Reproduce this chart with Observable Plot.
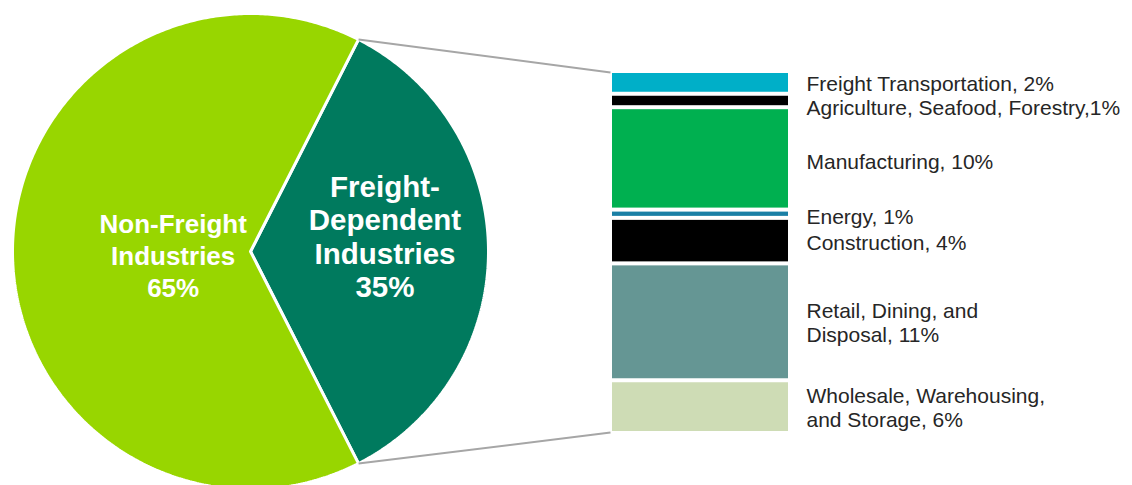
<!DOCTYPE html>
<html><head><meta charset="utf-8">
<script src="https://cdn.jsdelivr.net/npm/d3@7"></script>
<script src="https://cdn.jsdelivr.net/npm/@observablehq/plot@0.6"></script>
<style>html,body{margin:0;padding:0;background:#fff;} #chart{width:1132px;height:485px;}</style>
</head><body><div id="chart"></div>
<script>
// ---------- data ----------
const pieNames = ["Freight-Dependent Industries", "Non-Freight Industries"];
const pieValues = [35, 65];
const pieLabels = ["Freight-\nDependent\nIndustries\n35%", "Non-Freight\nIndustries\n65%"];

const segNames = ["Freight Transportation", "Agriculture, Seafood, Forestry", "Manufacturing", "Energy",
  "Construction", "Retail, Dining, and Disposal", "Wholesale, Warehousing, and Storage"];
const segValues = [2.2, 1.3, 9.9, 0.8, 4.4, 11.3, 5.1];
const segLabels = ["Freight Transportation, 2%", "Agriculture, Seafood, Forestry,1%", "Manufacturing, 10%",
  "Energy, 1%", "Construction, 4%", "Retail, Dining, and\nDisposal, 11%", "Wholesale, Warehousing,\nand Storage, 6%"];

// ---------- layout & style ----------
const W = 1132, H = 485;
const FONT = "'Liberation Sans', Arial, Helvetica, sans-serif";
const pieGeom = {cx: 250, cy: 251, r: 238};
const pieColors = ["#007a5e", "#98d600"];
const pieLabelR = [0.565, 0.325];
const pieLabelDy = [-15, 3];
const pieFont = [29.5, 26];
const pieLineH = [1.135, 1.23];
const barGeom = {x1: 612, x2: 788, top: 71, bottom: 433, inset: 2};
const segColors = ["#00afc8", "#000000", "#00b050", "#1a7fa5", "#000000", "#659694", "#cedcb5"];
const segLabelDy = [0, 6, 2.5, 2, 1, 0, 0];
const labelX = 806;

// ---------- pie geometry ----------
const total = d3.sum(pieValues);
const start = Math.PI / 2 - (pieValues[0] / total) * Math.PI;
const arcs = d3.pie().sort(null).startAngle(start).endAngle(start + 2 * Math.PI)(pieValues);
const {cx, cy, r} = pieGeom;
const px = a => cx + r * Math.sin(a), py = a => cy - r * Math.cos(a);

const sliceMarks = arcs.map((a, i) => {
  const pts = [{x: cx, y: cy}];
  const n = Math.ceil((a.endAngle - a.startAngle) / 0.01);
  for (let k = 0; k <= n; k++) {
    const ang = a.startAngle + (a.endAngle - a.startAngle) * k / n;
    pts.push({x: px(ang), y: py(ang)});
  }
  pts.push({x: cx, y: cy});
  return Plot.line(pts, {x: "x", y: "y", fill: pieColors[i], stroke: "#fff", strokeWidth: 3,
    strokeLinejoin: "miter", curve: "linear"});
});

const pieTextMarks = arcs.map((a, i) => {
  const mid = (a.startAngle + a.endAngle) / 2;
  return Plot.text([{name: pieNames[i], label: pieLabels[i]}], {
    x: () => cx + r * pieLabelR[i] * Math.sin(mid),
    y: () => cy - r * pieLabelR[i] * Math.cos(mid) + pieLabelDy[i],
    text: "label", fill: "#fff", fontWeight: "bold", fontSize: pieFont[i], fontFamily: FONT,
    lineHeight: pieLineH[i], lineAnchor: "middle", textAnchor: "middle"
  });
});

// ---------- bar geometry ----------
const segTotal = d3.sum(segValues);
const barY = Plot.scale({y: {type: "linear", domain: [0, segTotal], range: [barGeom.top, barGeom.bottom]}});
const cum = [0, ...d3.cumsum(segValues)];
const segs = segNames.map((name, i) => ({
  name, value: segValues[i], label: segLabels[i], color: segColors[i],
  y1: barY.apply(cum[i]), y2: barY.apply(cum[i + 1]), dy: segLabelDy[i]
}));

const fa = arcs[0];
const links = [
  {x1: px(fa.startAngle), y1: py(fa.startAngle), x2: barGeom.x1 - 2, y2: barY.apply(0) + 1},
  {x1: px(fa.endAngle), y1: py(fa.endAngle), x2: barGeom.x1 - 2, y2: barY.apply(segTotal) - 1}
];

const chart = Plot.plot({
  width: W, height: H, margin: 0,
  x: {type: "identity", axis: null},
  y: {type: "identity", axis: null},
  color: {type: "identity"},
  style: {background: "#fff", fontFamily: FONT, overflow: "visible"},
  marks: [
    ...sliceMarks,
    Plot.link(links, {x1: "x1", y1: "y1", x2: "x2", y2: "y2", stroke: "#a6a6a6", strokeWidth: 2}),
    Plot.rect(segs, {x1: () => barGeom.x1, x2: () => barGeom.x2, y1: "y1", y2: "y2", fill: "color",
      insetTop: barGeom.inset, insetBottom: barGeom.inset}),
    Plot.text(segs, {x: () => labelX, y: d => (d.y1 + d.y2) / 2 + d.dy, text: "label",
      textAnchor: "start", lineAnchor: "middle", fontSize: 21, lineHeight: 1.14,
      fill: "#262626", fontFamily: FONT}),
    ...pieTextMarks
  ]
});
document.getElementById("chart").appendChild(chart);
</script>
</body></html>
